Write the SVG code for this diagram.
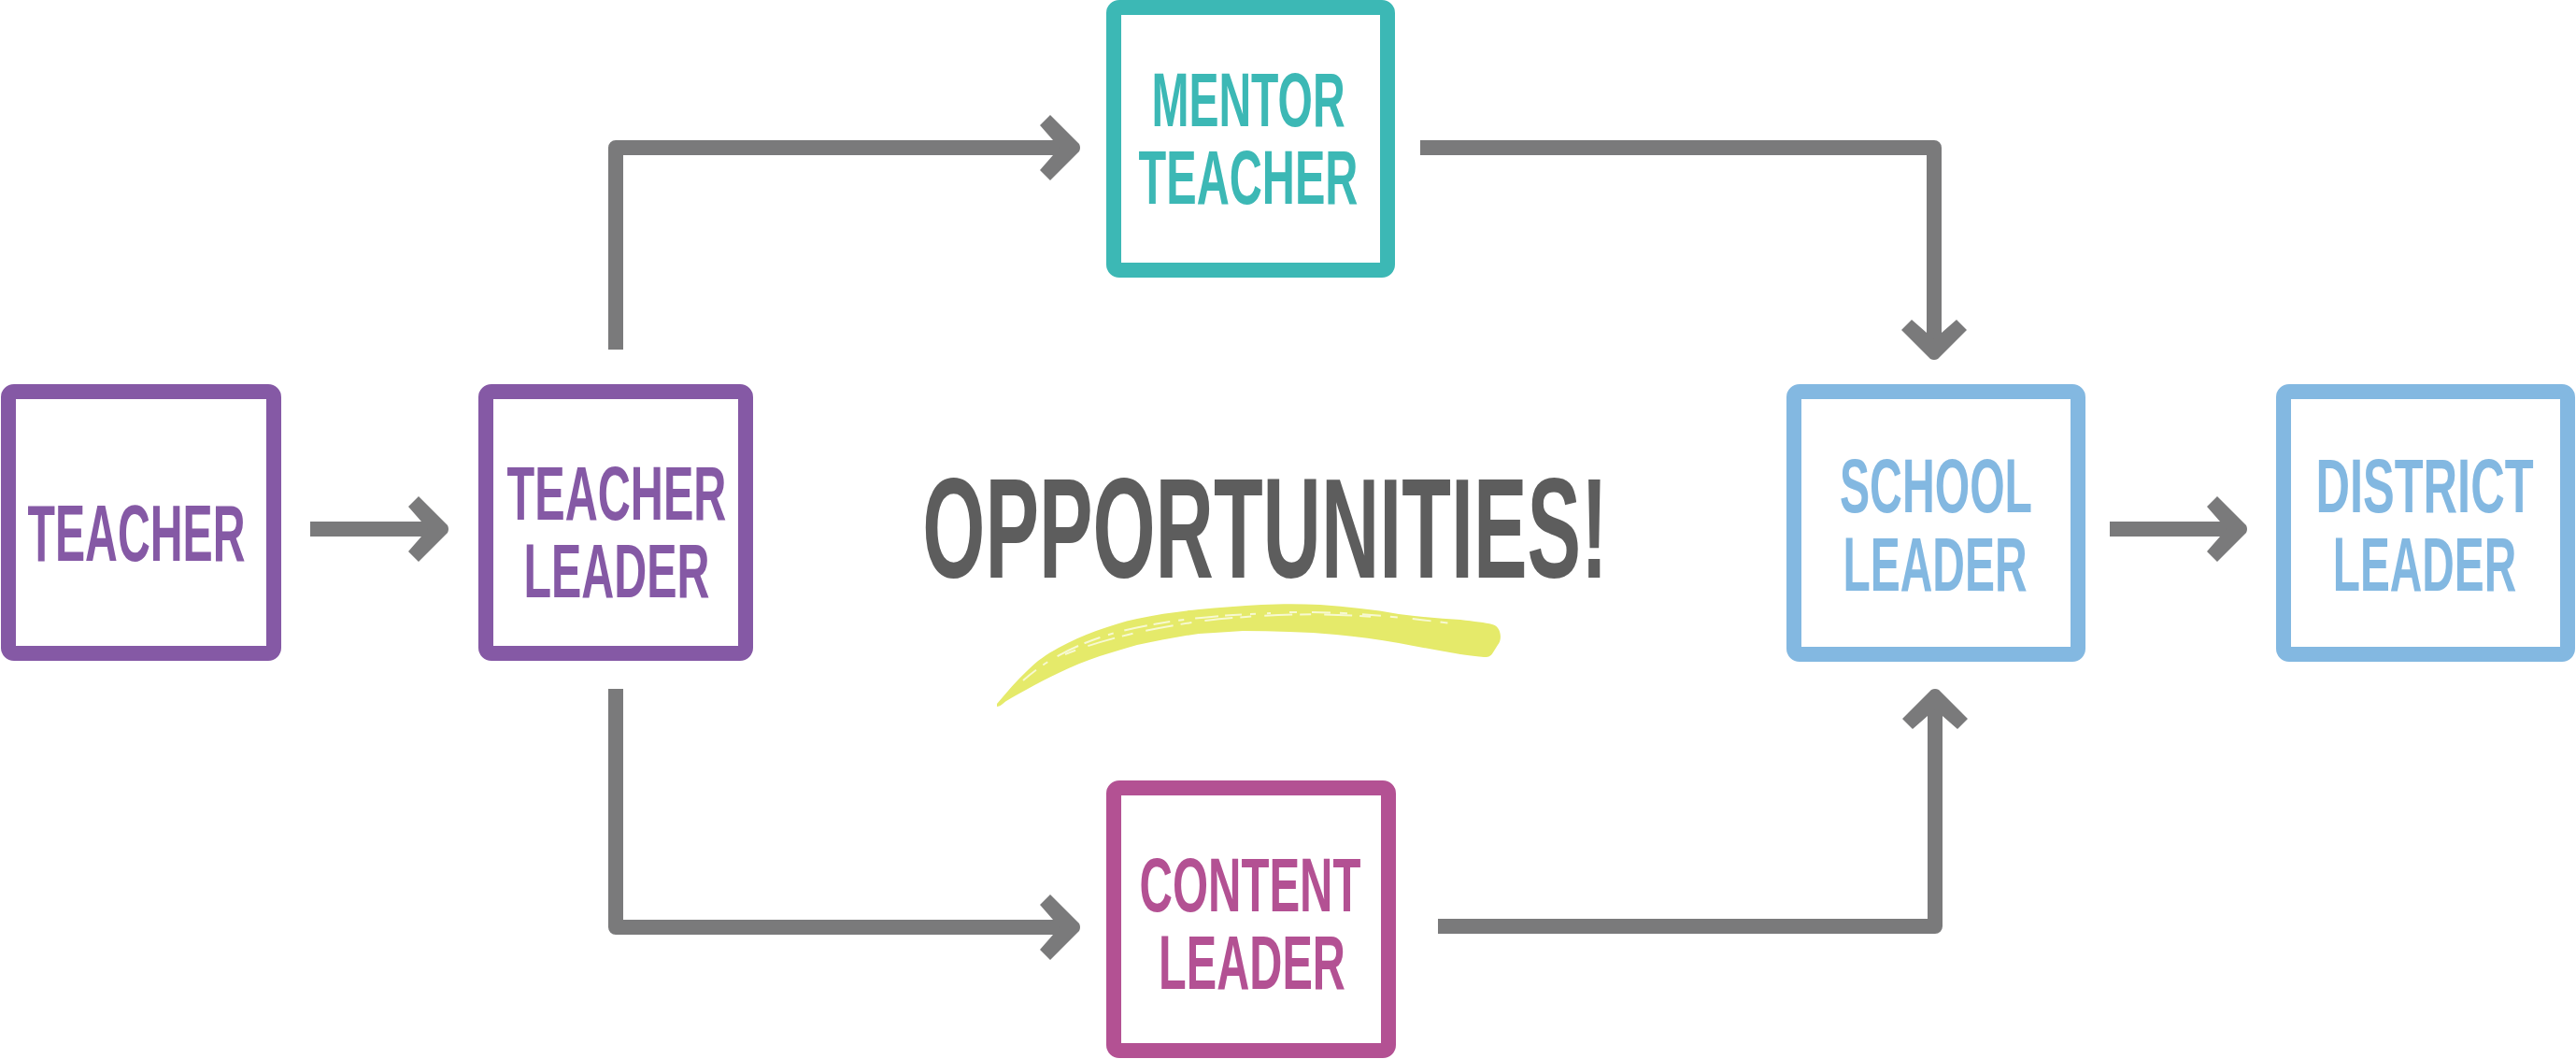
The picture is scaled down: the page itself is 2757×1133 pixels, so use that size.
<svg xmlns="http://www.w3.org/2000/svg" width="2757" height="1133" viewBox="0 0 2757 1133">
<style>
.box{fill:#fff;stroke-width:16}
.lbl{font-family:"Liberation Sans","DejaVu Sans",sans-serif;font-weight:bold;font-size:81px;text-anchor:middle}
.purple .box{stroke:#8559A5}.purple text{fill:#8559A5}
.teal .box{stroke:#3CB8B5}.teal text{fill:#3CB8B5}
.mag .box{stroke:#B35193}.mag text{fill:#B35193}
.blue .box{stroke:#83B8E1}.blue text{fill:#83B8E1}
.conn path.line{fill:none;stroke:#7A7A7B;stroke-width:16;stroke-linejoin:round}
.conn use{fill:#7A7A7B}
.streak{fill:none;stroke:#fff;stroke-width:2;opacity:0.7}
</style>
<defs>
<path id="chev" d="M-32,-35 L-1,-4 Q1,0 -1,4 L-32,35 L-43,24 L-22,0 L-43,-24 Z"/>
</defs>
<rect width="2757" height="1133" fill="#fff"/>
<g id="brush">
<path fill="#E5EA6A" d="M1067,753 C1078,740 1088,728 1100,717 C1110,707 1120,700 1133,693 C1146,686 1159,680 1173,675 C1188,670 1202,665 1217,662 C1240,657 1262,654 1283,652 C1305,650 1328,648 1350,647 C1372,646 1392,646 1413,647 C1442,649 1470,652 1497,657 C1520,660 1542,662 1563,663 C1578,665 1590,666 1597,668 C1607,670 1608,685 1603,690 L1598,698 C1595,703 1592,703 1588,703 C1578,702 1570,701 1563,700 C1540,696 1518,692 1497,688 C1475,684 1452,681 1430,679 C1397,676 1363,675 1330,675 C1315,676 1300,677 1283,678 C1260,681 1238,686 1217,690 C1203,694 1190,698 1177,702 C1162,707 1147,713 1133,720 C1121,726 1110,731 1100,737 C1092,741 1084,746 1077,750 C1073,753 1070,756 1067,756 Z"/>
<path class="streak" stroke-dasharray="18 9 6 12 25 7" d="M1095,728 C1120,706 1150,690 1190,678 C1240,664 1300,658 1360,656"/>
<path class="streak" stroke-dasharray="12 14 30 8" d="M1140,700 C1180,684 1230,672 1290,664 C1360,656 1420,656 1470,660"/>
<path class="streak" stroke-dasharray="8 16 20 10" d="M1380,655 C1440,654 1500,660 1560,668"/>
</g>
<g id="title">
<text transform="translate(1354,618) scale(0.587,1.04)" font-family="Liberation Sans, DejaVu Sans, sans-serif" font-weight="bold" font-size="147" fill="#5D5D5D" text-anchor="middle">OPPORTUNITIES!</text>
</g>
<g id="connectors" class="conn">
<path class="line" d="M332,566 H470"/>
<use href="#chev" transform="translate(480,566)"/>
<path class="line" d="M659,374 V158 H1145"/>
<use href="#chev" transform="translate(1156,158)"/>
<path class="line" d="M659,737 V992 H1145"/>
<use href="#chev" transform="translate(1156,992)"/>
<path class="line" d="M1520,158 H2070 V375"/>
<use href="#chev" transform="translate(2070,385) rotate(90)"/>
<path class="line" d="M1539,991 H2071 V747"/>
<use href="#chev" transform="translate(2071,737) rotate(-90)"/>
<path class="line" d="M2258,566 H2395"/>
<use href="#chev" transform="translate(2405,566)"/>
</g>
<g id="teacher" class="purple">
<rect class="box" x="9" y="419" width="284" height="280" rx="6"/>
<text class="lbl" transform="translate(146,600) scale(0.595,1.06)">TEACHER</text>
</g>
<g id="teacher-leader" class="purple">
<rect class="box" x="520" y="419" width="278" height="280" rx="6"/>
<text class="lbl" transform="translate(660,556) scale(0.6,1)">TEACHER</text>
<text class="lbl" transform="translate(660,639) scale(0.598,1)">LEADER</text>
</g>
<g id="mentor-teacher" class="teal">
<rect class="box" x="1192" y="8" width="293" height="281" rx="6"/>
<text class="lbl" transform="translate(1336,135) scale(0.593,1)">MENTOR</text>
<text class="lbl" transform="translate(1336,218) scale(0.6,1)">TEACHER</text>
</g>
<g id="content-leader" class="mag">
<rect class="box" x="1192" y="843" width="294" height="281" rx="6"/>
<text class="lbl" transform="translate(1338,975) scale(0.605,1)">CONTENT</text>
<text class="lbl" transform="translate(1340,1058) scale(0.6,1)">LEADER</text>
</g>
<g id="school-leader" class="blue">
<rect class="box" x="1920" y="419" width="304" height="281" rx="6"/>
<text class="lbl" transform="translate(2072,548) scale(0.595,1)">SCHOOL</text>
<text class="lbl" transform="translate(2071,632) scale(0.592,1)">LEADER</text>
</g>
<g id="district-leader" class="blue">
<rect class="box" x="2444" y="419" width="304" height="281" rx="6"/>
<text class="lbl" transform="translate(2595,548) scale(0.624,1)">DISTRICT</text>
<text class="lbl" transform="translate(2595,632) scale(0.59,1)">LEADER</text>
</g>
</svg>
